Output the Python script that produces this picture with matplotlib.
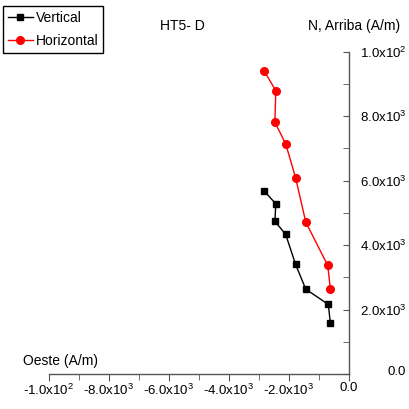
import matplotlib
matplotlib.use("Agg")
import matplotlib.pyplot as plt
from matplotlib.ticker import MultipleLocator, FixedLocator, FixedFormatter

plt.rcParams['font.family'] = ['Liberation Sans', 'DejaVu Sans']
plt.rcParams['mathtext.fontset'] = 'custom'
plt.rcParams['mathtext.rm'] = 'Liberation Sans'
plt.rcParams['mathtext.it'] = 'Liberation Sans'

# Data (A/m)
vert_x = [-2.82e-3, -2.44e-3, -2.47e-3, -2.11e-3, -1.78e-3, -1.44e-3, -0.69e-3, -0.62e-3]
vert_y = [5.67e-3, 5.28e-3, 4.74e-3, 4.33e-3, 3.40e-3, 2.63e-3, 2.16e-3, 1.57e-3]
hor_x = [-2.82e-3, -2.44e-3, -2.47e-3, -2.11e-3, -1.78e-3, -1.44e-3, -0.71e-3, -0.62e-3]
hor_y = [9.39e-3, 8.79e-3, 7.81e-3, 7.14e-3, 6.09e-3, 4.71e-3, 3.37e-3, 2.64e-3]

x_ticks = [-1.0e-2, -8.0e-3, -6.0e-3, -4.0e-3, -2.0e-3, 0.0]
x_labels = [r'-1.0x10$^{2}$', r'-8.0x10$^{3}$', r'-6.0x10$^{3}$', r'-4.0x10$^{3}$', r'-2.0x10$^{3}$', '0.0']
y_ticks = [0.0, 2.0e-3, 4.0e-3, 6.0e-3, 8.0e-3, 1.0e-2]
y_labels = ['', r'2.0x10$^{3}$', r'4.0x10$^{3}$', r'6.0x10$^{3}$', r'8.0x10$^{3}$', r'1.0x10$^{2}$']

W = H = 409
fig = plt.figure(figsize=(4.09, 4.09), dpi=100)
ax = fig.add_axes([49 / W, 1 - 374 / H, 300 / W, (374 - 51.7) / H])

ax.plot(vert_x, vert_y, color='black', lw=1, marker='s', ms=5, label='Vertical')
ax.plot(hor_x, hor_y, color='red', lw=1, marker='o', ms=5.5, label='Horizontal')

ax.set_xlim(-0.01, 0.0)
ax.set_ylim(0.0, 0.01)

for s in ['left', 'top']:
    ax.spines[s].set_visible(False)
for s in ['right', 'bottom']:
    ax.spines[s].set_color('#555555')
    ax.spines[s].set_linewidth(1)

ax.yaxis.tick_right()
ax.xaxis.set_major_locator(FixedLocator(x_ticks))
ax.xaxis.set_major_formatter(FixedFormatter(x_labels))
ax.xaxis.set_minor_locator(MultipleLocator(1e-3))
ax.yaxis.set_major_locator(FixedLocator(y_ticks))
ax.yaxis.set_major_formatter(FixedFormatter(y_labels))
ax.yaxis.set_minor_locator(MultipleLocator(1e-3))

ax.tick_params(axis='x', which='both', direction='out', color='#555555', labelsize=9.5, pad=1)
ax.tick_params(axis='x', which='major', length=5)
ax.tick_params(axis='x', which='minor', length=4)
ax.tick_params(axis='y', which='both', direction='in', color='#555555', labelsize=9.5, pad=8)
ax.tick_params(axis='y', which='major', length=4)
ax.tick_params(axis='y', which='minor', length=4)

fig.text(397 / W, 1 - 372 / H, '0.0', ha='center', va='center', fontsize=9.5)
fig.text(182 / W, 1 - 26 / H, 'HT5- D', ha='center', va='center', fontsize=10)
fig.text(308 / W, 1 - 26 / H, 'N, Arriba (A/m)', ha='left', va='center', fontsize=10)
fig.text(23 / W, 1 - 361 / H, 'Oeste (A/m)', ha='left', va='center', fontsize=10)

leg = fig.legend(loc='upper left', bbox_to_anchor=(3 / W, 1 - 6 / H), fontsize=10,
                 frameon=True, fancybox=False, edgecolor='black', framealpha=1,
                 borderpad=0.35, labelspacing=0.65, handlelength=1.8, handletextpad=0.2,
                 borderaxespad=0)
leg.get_frame().set_linewidth(1)

fig.savefig('out.png', dpi=100)
